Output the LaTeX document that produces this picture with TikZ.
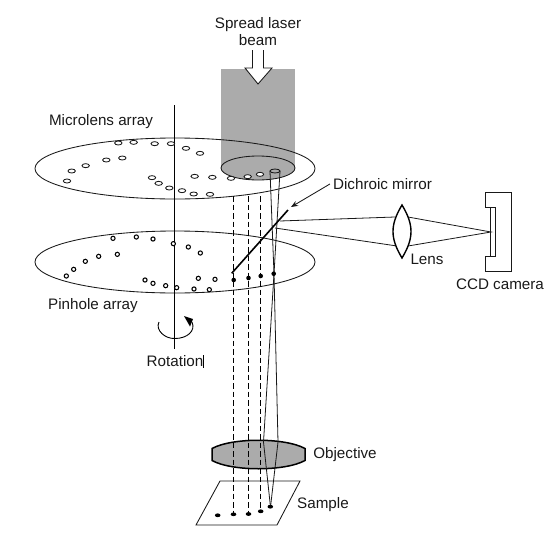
\documentclass[tikz,border=0pt]{standalone}
\usepackage{fontspec}
\setmainfont{Liberation Sans}
\usetikzlibrary{arrows.meta}
\definecolor{beamgray}{gray}{0.67}
\definecolor{inkc}{gray}{0.1}
\tikzset{
  x=1pt,y=-1pt,
  lbl/.style={font=\fontsize{15.2}{16.5}\selectfont,text=inkc,inner sep=0pt,align=center},
  ln/.style={draw=inkc,line width=0.85pt},
  ray/.style={draw=inkc,line width=0.8pt},
  hollowlens/.style={draw=inkc,line width=0.85pt,fill=white},
  hollowpin/.style={draw=black,line width=1.05pt,fill=white},
  filleddot/.style={fill=black,draw=none},
  dashray/.style={draw=black,line width=1.2pt,dash pattern=on 5.5pt off 3pt},
}
\begin{document}
\begin{tikzpicture}
\useasboundingbox (0,0) rectangle (552,536);
% beam
\fill[beamgray] (221,69) rectangle (295,168);
\draw[ln,fill=beamgray] (258,168) ellipse [x radius=37,y radius=12];
% big discs
\draw[ln] (175,168.5) ellipse [x radius=140,y radius=30.5];
\draw[ln] (175,262) ellipse [x radius=140,y radius=31];
% input arrow
\draw[ln,fill=white] (252.5,50) -- (252.5,68) -- (245,68) -- (258,84) -- (272,68) -- (263.5,68) -- (263.5,50);
% axis
\draw[draw=black,line width=0.9pt] (174.5,105) -- (174.5,349);
% microlens holes
\foreach \zx/\zy in {265/129,311/127,374/131,423/131,468/145,510/160,277/174,229/180,167/197,125/213,111/243,366/233,386/250,418/264,456/272,491/282,540/283,494/229,547/232,603/235,653/230,690/223}
  \draw[hollowlens] ({30+\zx/3},{100+\zy/3}) ellipse [x radius=3.7,y radius=2];
% pinholes
\foreach \zx/\zy in {249/85,319/81,369/87,430/101,475/111,511/129,262/133,206/139,166/154,131/178,109/198,345/210,369/220,407/227,440/233,492/237,538/239,505/205,555/208}
  \draw[hollowpin] ({30+\zx/3},{210+\zy/3}) circle [radius=2.1];
% objective
\draw[draw=black,line width=1.5pt,fill=beamgray] (212,448.5) .. controls (232,437.5) and (285,437.5) .. (305,448.5) -- (305,460.5) .. controls (285,471.5) and (232,471.5) .. (212,460.5) -- cycle;
% sample
\draw[ln] (220,481) -- (300,481) -- (277,525) -- (196,525) -- cycle;
% named ray points
\coordinate (d1t) at (233.5,196); \coordinate (d1b) at (233.5,514);
\coordinate (d2t) at (248.5,196); \coordinate (d2b) at (248.5,514);
\coordinate (d3t) at (260.5,196); \coordinate (d3b) at (260.5,511);
\coordinate (pin) at (274,274);
\coordinate (spot) at (270.5,507);
\coordinate (tl) at (270,171); \coordinate (tr) at (280,171);
\coordinate (ml) at (280,221); \coordinate (mb) at (275,228);
\coordinate (lu) at (395,217); \coordinate (ll) at (397,246);
\coordinate (ru) at (408,217); \coordinate (rl) at (408,246);
\coordinate (focus) at (491,232);
% dashed rays
\draw[dashray] (d1t) -- (d1b);
\draw[dashray] (d2t) -- (d2b);
\draw[dashray] (d3t) -- (d3b);
% tube and imaging rays
\draw[ln,fill=beamgray] (275,171) ellipse [x radius=5,y radius=2];
\draw[ray] (tl) -- (pin) -- (263.5,442) -- (spot);
\draw[ray] (tr) -- (pin) -- (278,442) -- (spot);
\draw[ray] (ml) -- (lu);
\draw[ray] (mb) -- (ll);
\draw[ray] (ru) -- (focus) -- (rl);
% mirror
\draw[draw=black,line width=1.6pt] (231.7,273.3) -- (288,210);
% spots on pinhole plane
\foreach \p in {(233.7,280),(248.5,278),(260.7,276),(273.7,273.7)}
  \fill[filleddot] \p circle [radius=2.3];
% sample spots
\foreach \p in {(217.7,515.3),(233.5,514.3),(248.5,514),(260.7,511.3),(270.3,506.7)}
  \fill[filleddot] \p ellipse [x radius=2.8,y radius=1.9];
% lens
\draw[draw=black,line width=1.4pt,fill=white] (402,205) .. controls (390,225) and (390,238) .. (402,258) .. controls (414,238) and (414,225) .. (402,205) -- cycle;
% CCD
\draw[ln] (485.7,192.7) -- (511,192.7) -- (511,271) -- (485.7,271) -- (485.7,256.7) -- (490.7,256.7) -- (490.7,207.3) -- (485.7,207.3) -- cycle;
\draw[ln] (490.7,207.3) -- (495.7,207.3) -- (495.7,256) -- (490.7,256);
% rotation arrow
\draw[draw=black,line width=0.9pt] (159,322) .. controls (155,330) and (165,339) .. (175,338.5) .. controls (187,338.5) and (196,331) .. (192,322);
\fill[black] (184,316) -- (193,319) -- (190,326.5) -- cycle;
% labels
\node[lbl] (spread) at (258,31.5) {Spread laser\\beam};
\node[lbl] (micro) at (101,122) {Microlens array};
\node[lbl] (pinh) at (93,306) {Pinhole array};
\node[lbl] (dich) at (382.5,184) {Dichroic mirror};
\node[lbl] (lenslbl) at (427,259) {Lens};
\node[lbl] (ccdlbl) at (500,284) {CCD camera};
\node[lbl] (rot) at (175,360.7) {Rotation};
\node[lbl] (obj) at (345,455) {Objective};
\node[lbl] (samp) at (323,505) {Sample};
\coordinate (mirrorhit) at (291,207);
\draw[ln,-{Stealth[length=7pt,width=5.5pt]}] (dich.west) ++(-3,0) -- (mirrorhit);
\draw[draw=black,line width=0.8pt] (203.3,355) -- (203.3,368);
\end{tikzpicture}
\end{document}
